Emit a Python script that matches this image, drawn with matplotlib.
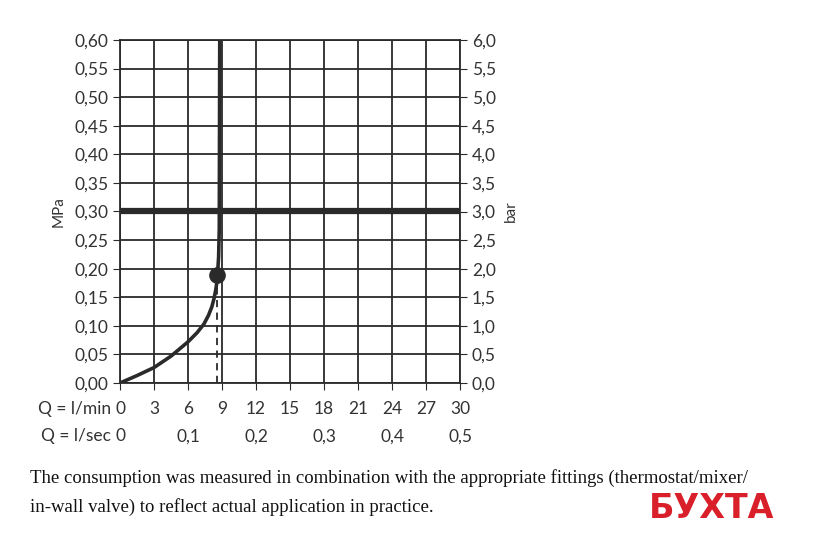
import matplotlib.pyplot as plt
import numpy as np

# flow curve (l/min, MPa)
flow = [0, 1.5, 3, 4.5, 6, 6.8, 7.4, 7.8, 8.1, 8.3, 8.45, 8.55, 8.6]
pressure = [0, 0.013, 0.027, 0.047, 0.072, 0.088, 0.103, 0.118, 0.133, 0.148, 0.163, 0.177, 0.189]
dot = (8.6, 0.189)
vertical_top = [(8.6, 0.189), (8.7, 0.22), (8.76, 0.27), (8.8, 0.60)]

lmin_ticks = [0, 3, 6, 9, 12, 15, 18, 21, 24, 27, 30]
lsec_ticks = [0, 0.1, 0.2, 0.3, 0.4, 0.5]
mpa_ticks = np.round(np.arange(0, 0.61, 0.05), 2)

plt.rcParams['font.family'] = ['Lato', 'DejaVu Sans']
fig = plt.figure(figsize=(8.4, 5.41), dpi=100)
ax = fig.add_axes([120/840, 1 - 383/541, 340/840, 343/541])
ax.set_xlim(0, 30)
ax.set_ylim(0, 0.60)
col = '#2a2a2a'
tc = '#333333'

ax.set_xticks(lmin_ticks)
ax.set_yticks(mpa_ticks)
ax.grid(True, color=col, linewidth=1.3)
for s in ax.spines.values():
    s.set_color(col)
    s.set_linewidth(1.3)
ax.tick_params(axis='x', length=5, color=col, labelbottom=False)
ax.tick_params(axis='y', length=5, color=col, labelsize=12.5, labelcolor=tc)
ax.set_yticklabels([f'{v:.2f}'.replace('.', ',') for v in mpa_ticks])
ax.set_ylabel('MPa', fontsize=11, color=tc, labelpad=6)

ax2 = ax.twinx()
ax2.set_ylim(0, 6.0)
ax2.set_yticks(mpa_ticks * 10)
ax2.set_yticklabels([f'{v*10:.1f}'.replace('.', ',') for v in mpa_ticks])
ax2.tick_params(axis='y', length=5, color=col, labelsize=12.5, labelcolor=tc)
ax2.set_ylabel('bar', fontsize=11, color=tc, labelpad=6)
for s in ax2.spines.values():
    s.set_visible(False)

ax.axhline(0.30, color=col, linewidth=4.5, zorder=3)
ax.plot(flow, pressure, color=col, linewidth=2.6, zorder=4)
vx, vy = zip(*vertical_top)
ax.plot(vx, vy, color=col, linewidth=2.6, zorder=4)
ax.plot([dot[0], dot[0]], [0, dot[1]], color=col, linewidth=1.3, linestyle=(0, (4, 3)), zorder=4)
ax.plot(*dot, 'o', color=col, markersize=11, zorder=5)

tr = ax.get_xaxis_transform()
ax.text(-0.8, -0.075, 'Q = l/min', transform=tr, ha='right', va='center', fontsize=12.5, color=tc)
for t in lmin_ticks:
    ax.text(t, -0.075, str(t), transform=tr, ha='center', va='center', fontsize=12.5, color=tc)
ax.text(-0.8, -0.155, 'Q = l/sec', transform=tr, ha='right', va='center', fontsize=12.5, color=tc)
for t in lsec_ticks:
    ax.text(t * 60, -0.155, f'{t:g}'.replace('.', ','), transform=tr, ha='center', va='center', fontsize=12.5, color=tc)

fig.text(30/840, 1 - 478/541, 'The consumption was measured in combination with the appropriate fittings (thermostat/mixer/',
         fontsize=13.5, family='Liberation Serif', va='center', color='#111111')
fig.text(30/840, 1 - 507/541, 'in-wall valve) to reflect actual application in practice.',
         fontsize=13.5, family='Liberation Serif', va='center', color='#111111')
fig.text(712/840, 1 - 508/541, 'БУХТА', fontsize=24, fontweight='bold', color='#d9202a', ha='center', va='center',
         family='DejaVu Sans', bbox=dict(facecolor='white', edgecolor='none', pad=2))

fig.savefig('out.png', dpi=100)
